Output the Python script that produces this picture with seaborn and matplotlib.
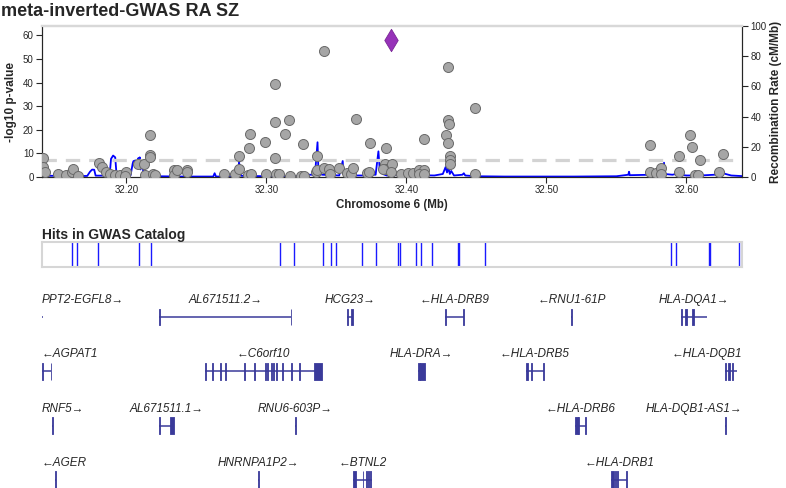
import numpy as np
import pandas as pd
import seaborn as sns
import matplotlib
matplotlib.use('Agg')
import matplotlib.pyplot as plt

sns.set_style('ticks')
plt.rcParams['font.family'] = ['Liberation Sans', 'DejaVu Sans']

# association results (position in Mb, -log10 p)
snp_pos = [32.1404, 32.1404, 32.1421, 32.1511, 32.1571, 32.1614, 32.1619, 32.1654,
           32.1802, 32.1829, 32.1857, 32.1881, 32.1916, 32.1952, 32.1995, 32.1988,
           32.2083, 32.2124, 32.2136, 32.2171, 32.2171, 32.2171, 32.2190, 32.2202,
           32.2338, 32.2338, 32.2364, 32.2436, 32.2436, 32.2697, 32.2774, 32.2804,
           32.2804, 32.2869, 32.2881, 32.2876, 32.2893, 32.2993, 32.3000, 32.3059,
           32.3062, 32.3062, 32.3066, 32.3090, 32.3131, 32.3159, 32.3166, 32.3250,
           32.3271, 32.3259, 32.3364, 32.3352, 32.3364, 32.3411, 32.3409, 32.3450,
           32.3457, 32.3519, 32.3579, 32.3602, 32.3619, 32.3638, 32.3738, 32.3721,
           32.3733, 32.3857, 32.3845, 32.3857, 32.3881, 32.3900, 32.3833, 32.3893,
           32.3964, 32.4012, 32.4047, 32.4090, 32.4126, 32.4090, 32.4126, 32.4126,
           32.4297, 32.4297, 32.4302, 32.4281, 32.4300, 32.4314, 32.4314, 32.4314,
           32.4490, 32.4490, 32.5743, 32.5743, 32.5786, 32.5821, 32.5821, 32.5947,
           32.5947, 32.6024, 32.6043, 32.6095, 32.6059, 32.6083, 32.6233, 32.6262]
snp_logp = [8.1, 4.3, 2.1, 1.4, 1.0, 2.1, 3.3, 0.4,
            6.0, 4.3, 2.1, 1.4, 0.7, 0.7, 2.1, 0.5,
            5.4, 5.7, 0.7, 17.9, 9.5, 8.5, 1.4, 0.7,
            3.1, 0.7, 3.1, 3.1, 2.1, 1.4, 1.4, 8.9,
            3.5, 0.7, 18.3, 12.3, 1.1, 14.8, 1.1, 39.3,
            23.4, 8.0, 1.3, 1.3, 18.3, 24.0, 0.4, 0.4,
            0.4, 13.9, 8.8, 2.0, 2.8, 53.5, 3.9, 3.5,
            1.1, 3.9, 1.6, 1.1, 3.9, 24.7, 14.2, 1.6,
            2.3, 12.3, 5.6, 3.5, 3.5, 5.3, 3.5, 2.1,
            1.1, 1.6, 1.6, 3.1, 3.1, 1.1, 1.1, 16.2,
            46.8, 24.1, 22.4, 17.6, 14.5, 9.0, 7.4, 5.4,
            29.1, 1.4, 13.5, 2.1, 1.6, 3.8, 1.4, 8.8,
            2.1, 18.0, 12.6, 7.4, 1.0, 0.7, 2.1, 9.7]
lead_pos = 32.3893
lead_logp = 57.9

# recombination rate (cM/Mb)
recomb_pos = [32.1397, 32.150, 32.160, 32.172, 32.174, 32.1755, 32.177, 32.178, 32.188,
              32.189, 32.1905, 32.192, 32.193, 32.200, 32.203, 32.2045, 32.205, 32.2065,
              32.207, 32.2075, 32.208, 32.2085, 32.209, 32.2095, 32.210, 32.2115, 32.212,
              32.2125, 32.216, 32.218, 32.222, 32.240, 32.262, 32.263, 32.264, 32.278,
              32.280, 32.2805, 32.281, 32.282, 32.300, 32.320, 32.330, 32.334, 32.335,
              32.3365, 32.337, 32.338, 32.340, 32.352, 32.3545, 32.355, 32.360, 32.362,
              32.363, 32.370, 32.372, 32.373, 32.378, 32.380, 32.381, 32.382, 32.383,
              32.386, 32.390, 32.395, 32.420, 32.426, 32.428, 32.429, 32.430, 32.431,
              32.432, 32.434, 32.440, 32.441, 32.442, 32.450, 32.470, 32.520, 32.550,
              32.5585, 32.559, 32.5595, 32.575, 32.583, 32.584, 32.5845, 32.590, 32.5925,
              32.5935, 32.595, 32.600, 32.610, 32.620, 32.625, 32.628, 32.632, 32.6397]
recomb_rate = [0.8, 0.8, 0.6, 0.7, 3.5, 4.9, 4.8, 0.9, 0.9,
               12.0, 14.2, 13.0, 1.0, 1.0, 1.2, 9.0, 10.5, 11.0,
               8.0, 11.0, 6.0, 12.5, 7.0, 13.0, 5.0, 10.0, 3.0,
               1.5, 1.0, 0.8, 0.5, 0.3, 0.3, 2.5, 0.3, 0.5,
               4.0, 10.0, 4.0, 0.8, 0.5, 0.5, 1.5, 1.5, 5.0,
               23.0, 8.0, 2.0, 1.5, 1.0, 10.6, 2.0, 1.5, 5.0,
               1.0, 1.0, 3.0, 1.5, 1.5, 17.0, 4.0, 8.0, 2.0,
               1.0, 1.0, 1.5, 1.0, 2.0, 6.6, 3.0, 6.0, 2.0,
               4.0, 1.0, 1.5, 2.5, 1.0, 0.5, 0.3, 0.3, 0.5,
               1.5, 3.5, 1.2, 1.5, 2.0, 9.5, 2.0, 1.5, 2.0,
               5.5, 1.5, 1.0, 1.0, 1.5, 3.0, 2.0, 1.0, 0.6]

# GWAS catalog hits (Mb)
catalog_pos = [32.1613, 32.1649, 32.1799, 32.2088, 32.2177, 32.3095, 32.3195, 32.3406,
               32.3459, 32.3495, 32.3684, 32.3784, 32.3941, 32.3952, 32.4070, 32.4106,
               32.4184, 32.4366, 32.4377, 32.4559, 32.5891, 32.5927, 32.6159, 32.6170,
               32.6374]

# genes
gene_names = ['PPT2-EGFL8', 'AL671511.2', 'HCG23', 'HLA-DRB9', 'RNU1-61P', 'HLA-DQA1',
              'AGPAT1', 'C6orf10', 'HLA-DRA', 'HLA-DRB5', 'HLA-DQB1',
              'RNF5', 'AL671511.1', 'RNU6-603P', 'HLA-DRB6', 'HLA-DQB1-AS1',
              'AGER', 'HNRNPA1P2', 'BTNL2', 'HLA-DRB1']
gene_strand = ['+', '+', '+', '-', '-', '+',
               '-', '-', '+', '-', '-',
               '+', '+', '+', '-', '+',
               '-', '+', '-', '-']
gene_row = [0, 0, 0, 0, 0, 0,
            1, 1, 1, 1, 1,
            2, 2, 2, 2, 2,
            3, 3, 3, 3]
gene_start = [32.1397, 32.2231, 32.3578, 32.4274, 32.5177, 32.5959,
              32.1397, 32.2564, 32.4081, 32.4852, 32.6274,
              32.1466, 32.2233, 32.3205, 32.5207, 32.6279,
              32.1490, 32.2938, 32.3619, 32.5464]
gene_end = [32.1401, 32.3179, 32.3616, 32.4411, 32.5182, 32.6147,
            32.1464, 32.3397, 32.4131, 32.4983, 32.6362,
            32.1477, 32.2340, 32.3210, 32.5281, 32.6286,
            32.1500, 32.2944, 32.3754, 32.5578]
gene_exons = [
    [],
    [(32.2231, 32.2238), (32.3172, 32.3179)],
    [(32.3578, 32.3586), (32.3607, 32.3616)],
    [(32.4274, 32.4281), (32.4404, 32.4411)],
    [(32.5177, 32.5182)],
    [(32.5959, 32.5967), (32.5993, 32.6001), (32.6043, 32.6051)],
    [(32.1397, 32.1402), (32.1458, 32.1464)],
    [(32.2564, 32.2571), (32.2614, 32.2621), (32.2671, 32.2678), (32.2702, 32.2709),
     (32.2840, 32.2847), (32.2909, 32.2916), (32.2993, 32.3000), (32.3004, 32.3011),
     (32.3033, 32.3040), (32.3047, 32.3054), (32.3071, 32.3078), (32.3111, 32.3118),
     (32.3179, 32.3186), (32.3233, 32.3240), (32.3340, 32.3397)],
    [(32.4081, 32.4095), (32.4100, 32.4131)],
    [(32.4852, 32.4866), (32.4893, 32.4900), (32.4976, 32.4983)],
    [(32.6274, 32.6283), (32.6300, 32.6310), (32.6327, 32.6334)],
    [(32.1466, 32.1477)],
    [(32.2233, 32.2240), (32.2310, 32.2340)],
    [(32.3205, 32.3210)],
    [(32.5207, 32.5222), (32.5227, 32.5232), (32.5276, 32.5281)],
    [(32.6279, 32.6286)],
    [(32.1490, 32.1500)],
    [(32.2938, 32.2944)],
    [(32.3619, 32.3638), (32.3688, 32.3693), (32.3711, 32.3716), (32.3728, 32.3733),
     (32.3740, 32.3745)],
    [(32.5464, 32.5480), (32.5490, 32.5496), (32.5506, 32.5512), (32.5571, 32.5578)],
]

xmin, xmax = 32.1397, 32.6397
W, H = 786, 488


def box(x0, y0, x1, y1):
    # pixel box -> figure fraction
    return [x0 / W, 1 - y1 / H, (x1 - x0) / W, (y1 - y0) / H]


fig = plt.figure(figsize=(7.86, 4.88), dpi=100)

# ---- association panel
ax = fig.add_axes(box(42, 26, 742, 177))
ax2 = ax.twinx()
ax.set_zorder(ax2.get_zorder() + 1)
ax.patch.set_visible(False)

sns.lineplot(x=recomb_pos, y=recomb_rate, ax=ax2, color='#0000ff', lw=1.3,
             estimator=None, sort=False)
ax.axhline(7.3, color='#d3d3d3', lw=2.3, dashes=(4.5, 2.8), zorder=1)
sns.scatterplot(x=snp_pos, y=snp_logp, ax=ax, s=52, color='#a6a6a6',
                edgecolor='#6a6a6a', linewidth=0.7, zorder=3)
sns.scatterplot(x=[lead_pos], y=[lead_logp], ax=ax, marker='d', s=130,
                color='#9632b8', edgecolor='#7a2696', linewidth=0.6, zorder=4)

ax.set_xlim(xmin, xmax)
ax.set_ylim(0, 64)
ax2.set_ylim(0, 100)
ax.set_yticks(range(0, 61, 10))
ax2.set_yticks(range(0, 101, 20))
ax.set_xticks([32.2, 32.3, 32.4, 32.5, 32.6])
ax.set_xticklabels(['32.20', '32.30', '32.40', '32.50', '32.60'])
for a in (ax, ax2):
    a.tick_params(labelsize=7, length=4, width=0.8, pad=2)
    for s in a.spines.values():
        s.set_linewidth(0.8)
    a.spines['top'].set_color('#d8d8d8')
    a.spines['top'].set_linewidth(1.6)
    a.set_ylabel('')
ax.set_xlabel('Chromosome 6 (Mb)', fontsize=8.3, fontweight='bold')
ax.xaxis.set_label_coords(0.5, -0.145)
ax.set_ylabel('-log10 p-value', fontsize=8.5, fontweight='bold')
ax.yaxis.set_label_coords(-0.036, 0.5)
ax2.set_ylabel('Recombination Rate (cM/Mb)', fontsize=8.5, fontweight='bold')
ax2.yaxis.set_label_coords(1.04, 0.5)

fig.text(1 / W, 1 - 15.5 / H, 'meta-inverted-GWAS RA SZ', fontsize=13,
         fontweight='bold', ha='left', va='baseline')

# ---- GWAS catalog track
axc = fig.add_axes(box(42, 242, 742, 267))
axc.vlines(catalog_pos, 0, 1, color='#1a1aff', lw=1.0)
axc.set_xlim(xmin, xmax)
axc.set_ylim(0, 1)
axc.set_xticks([])
axc.set_yticks([])
for s in axc.spines.values():
    s.set_color('#d6d6d6')
    s.set_linewidth(1.5)
fig.text(42 / W, 1 - 239 / H, 'Hits in GWAS Catalog', fontsize=10,
         fontweight='bold', ha='left', va='baseline')

# ---- genes track
axg = fig.add_axes(box(42, 285, 742, 488))
axg.set_xlim(xmin, xmax)
axg.set_ylim(3.149, -0.589)
axg.axis('off')
gene_col = '#3a3a9a'
texts, centers = [], []
for name, st, en, strand, row, exons in zip(gene_names, gene_start, gene_end,
                                            gene_strand, gene_row, gene_exons):
    axg.plot([st, en], [row, row], color=gene_col, lw=1.1, solid_capstyle='butt')
    for e0, e1 in exons:
        axg.fill_between([e0, e1], row - 0.155, row + 0.155, color=gene_col, lw=0.6,
                         edgecolor=gene_col)
    label = name + '\u2192' if strand == '+' else '\u2190' + name
    c = (max(st, xmin) + min(en, xmax)) / 2
    t = axg.text(c, row - 0.31, label, ha='center', va='center', fontsize=8.5,
                 fontstyle='italic')
    texts.append(t)
    centers.append(c)

# keep gene labels inside the panel
fig.canvas.draw()
r = fig.canvas.get_renderer()
inv = axg.transData.inverted()
for t, c in zip(texts, centers):
    bb = t.get_window_extent(r)
    w = inv.transform((bb.x1, 0))[0] - inv.transform((bb.x0, 0))[0]
    t.set_x(min(max(c, xmin + w / 2), xmax - w / 2))

fig.savefig('out.png', dpi=100)
